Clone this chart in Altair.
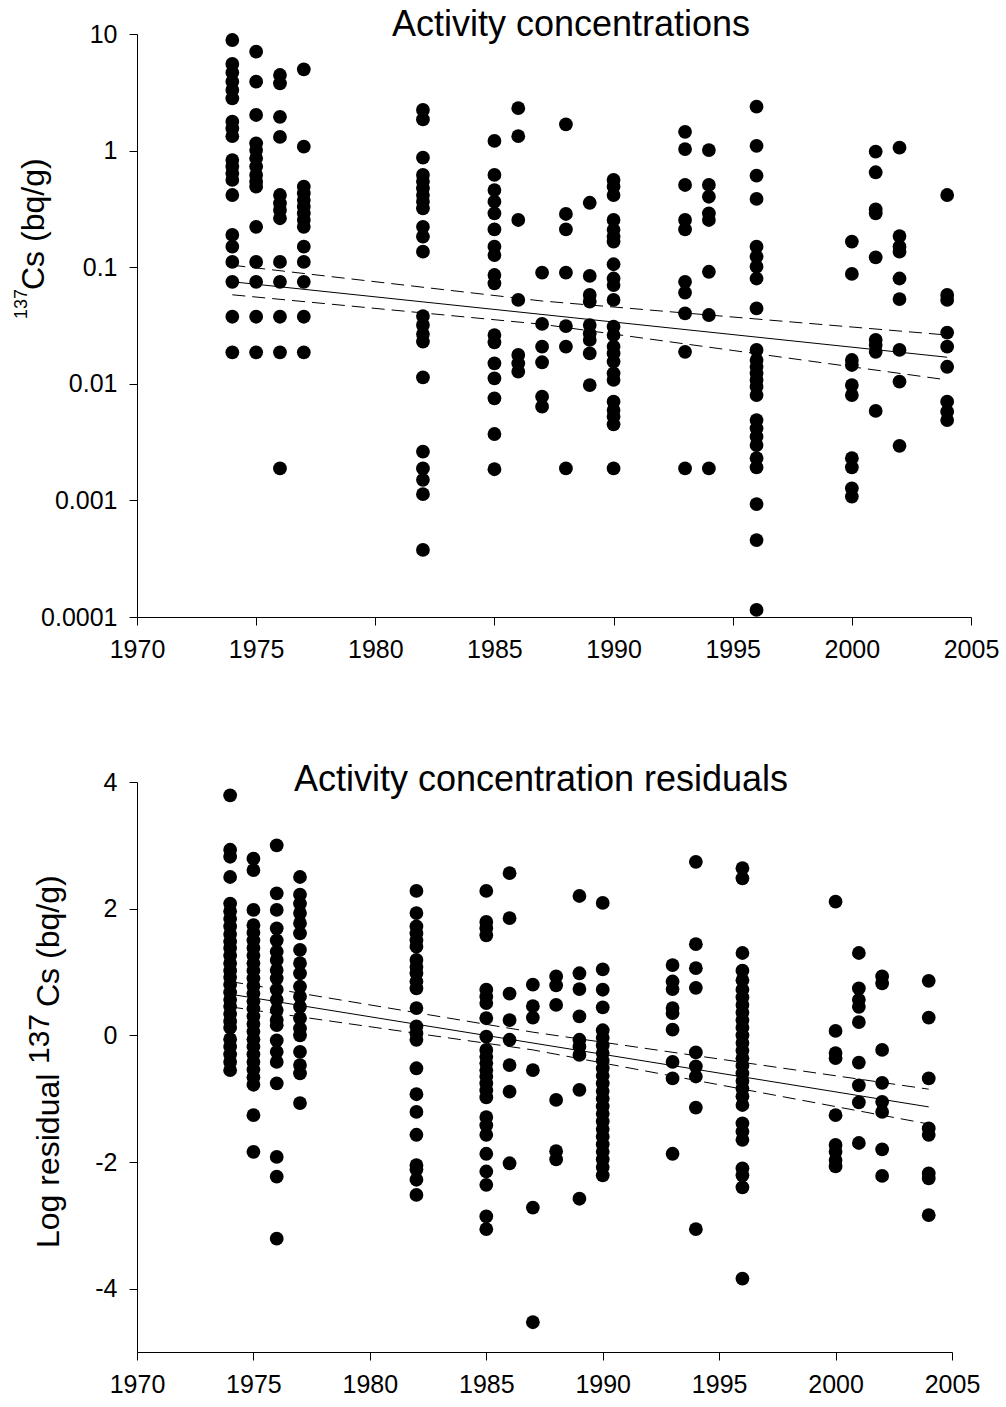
import altair as alt
import pandas as pd

FONT = "Liberation Sans"

# ---------------- Top panel: activity concentrations (Bq/g) ----------------
c1974 = [8.88, 5.53, 4.66, 3.90, 3.31, 2.81, 1.77, 1.55, 1.33, 0.83, 0.73, 0.64, 0.56, 0.416, 0.189, 0.150, 0.111, 0.075, 0.0376, 0.0186]
c1975 = [7.05, 3.90, 2.02, 1.155, 1.01, 0.86, 0.73, 0.618, 0.541, 0.49, 0.222, 0.111, 0.075, 0.0376, 0.0186]
c1976 = [4.45, 3.77, 1.95, 1.31, 0.416, 0.353, 0.31, 0.263, 0.111, 0.075, 0.0376, 0.0186, 0.00188]
c1977 = [4.98, 1.08, 0.49, 0.43, 0.377, 0.33, 0.29, 0.254, 0.222, 0.150, 0.111, 0.075, 0.0376, 0.0186]
c1982 = [2.23, 1.85, 0.869, 0.618, 0.541, 0.475, 0.416, 0.365, 0.32, 0.222, 0.183, 0.136, 0.0381, 0.0320, 0.0267, 0.0230, 0.01137, 0.00262, 0.00188, 0.0015, 0.00113, 0.000376]
c1985 = [1.21, 0.618, 0.459, 0.365, 0.29, 0.211, 0.150, 0.127, 0.0857, 0.0727, 0.0262, 0.0227, 0.0150, 0.01115, 0.00751, 0.00371, 0.00185]
c1986 = [2.31, 1.33, 0.254, 0.0524, 0.0177, 0.0150, 0.0127]
c1987 = [0.0897, 0.0326, 0.0208, 0.0153, 0.00776, 0.00637]
c1988 = [1.68, 0.286, 0.211, 0.0897, 0.0313, 0.0208, 0.00188]
c1989 = [0.357, 0.0841, 0.0578, 0.0506, 0.0319, 0.0270, 0.0238, 0.0182, 0.00975]
c1990 = [0.56, 0.49, 0.416, 0.254, 0.209, 0.183, 0.166, 0.106, 0.080, 0.0703, 0.0524, 0.0309, 0.0262, 0.0208, 0.0182, 0.0155, 0.0123, 0.0108, 0.00703, 0.00596, 0.00522, 0.00449, 0.00188]
c1993 = [1.45, 1.03, 0.507, 0.254, 0.211, 0.075, 0.0606, 0.0402, 0.0188, 0.00188]
c1994 = [1.01, 0.507, 0.402, 0.29, 0.254, 0.0914, 0.0389, 0.00188]
c1996 = [2.38, 1.10, 0.61, 0.385, 0.150, 0.123, 0.101, 0.080, 0.0443, 0.0195, 0.016, 0.0140, 0.0123, 0.0108, 0.00944, 0.00801, 0.00489, 0.00415, 0.00352, 0.00298, 0.00230, 0.00192, 0.00093, 0.000457, 0.000115]
c2000 = [0.166, 0.0875, 0.016, 0.0145, 0.00975, 0.00801, 0.0023, 0.00192, 0.00127, 0.00108]
c2001 = [0.98, 0.652, 0.313, 0.29, 0.1216, 0.0238, 0.0215, 0.0188, 0.00585]
c2002 = [1.06, 0.185, 0.150, 0.136, 0.080, 0.0533, 0.0195, 0.01045, 0.00294]
c2004 = [0.416, 0.0578, 0.0524, 0.0275, 0.0208, 0.014, 0.00703, 0.00577, 0.00489]

# regression line and confidence limits (top)
fit_years = [1974, 2004]
fit_top = [0.075, 0.0169]
band_years = [1974, 1987, 2004]
upper_top = [0.104, 0.0513, 0.0262]
lower_top = [0.058, 0.0324, 0.0108]

# ---------------- Bottom panel: log residuals ----------------
r1974 = [3.79, 2.93, 2.82, 2.50, 2.08, 1.96, 1.84, 1.72, 1.60, 1.48, 1.38, 1.26, 1.14, 1.02, 0.92, 0.80, 0.68, 0.56, 0.46, 0.34, 0.22, 0.12, -0.06, -0.18, -0.30, -0.42, -0.55]
r1975 = [2.79, 2.61, 1.98, 1.74, 1.62, 1.50, 1.38, 1.26, 1.14, 1.02, 0.90, 0.78, 0.66, 0.54, 0.42, 0.30, 0.18, 0.06, -0.06, -0.18, -0.30, -0.42, -0.54, -0.66, -0.78, -1.26, -1.84]
r1976 = [3.00, 2.24, 1.98, 1.69, 1.50, 1.32, 1.19, 1.03, 0.90, 0.72, 0.56, 0.40, 0.24, 0.16, -0.08, -0.26, -0.42, -0.76, -1.92, -2.23, -3.21]
r1977 = [2.50, 2.22, 2.08, 1.93, 1.77, 1.61, 1.35, 1.14, 0.98, 0.77, 0.61, 0.45, 0.27, 0.11, 0.0, -0.26, -0.47, -0.60, -1.07]
r1982 = [2.28, 1.93, 1.72, 1.61, 1.50, 1.40, 1.19, 1.08, 0.98, 0.85, 0.74, 0.43, 0.14, 0.03, -0.07, -0.52, -0.93, -1.21, -1.57, -2.05, -2.12, -2.28, -2.52]
r1985 = [2.28, 1.79, 1.69, 1.58, 0.72, 0.61, 0.51, 0.27, -0.02, -0.23, -0.34, -0.44, -0.55, -0.65, -0.76, -0.87, -0.98, -1.29, -1.42, -1.57, -1.87, -2.15, -2.36, -2.86, -3.06]
r1986 = [2.56, 1.85, 0.66, 0.24, -0.07, -0.47, -0.89, -2.02]
r1987 = [0.80, 0.46, 0.28, -0.55, -2.72, -4.53]
r1988 = [0.93, 0.79, 0.48, -1.02, -1.83, -1.96]
r1989 = [2.20, 0.98, 0.73, 0.30, -0.07, -0.18, -0.31, -0.86, -2.58]
r1990 = [2.09, 1.04, 0.72, 0.44, 0.08, -0.04, -0.16, -0.28, -0.40, -0.52, -0.64, -0.76, -0.88, -1.00, -1.12, -1.24, -1.36, -1.48, -1.60, -1.72, -1.84, -1.96, -2.08, -2.21]
r1993 = [1.11, 0.85, 0.73, 0.43, 0.35, 0.09, -0.42, -0.68, -1.87]
r1994 = [2.74, 1.44, 1.06, 0.75, -0.27, -0.49, -0.65, -1.14, -3.06]
r1996 = [2.64, 2.48, 1.30, 1.02, 0.87, 0.72, 0.60, 0.48, 0.36, 0.24, 0.12, 0.0, -0.12, -0.24, -0.36, -0.48, -0.60, -0.72, -0.84, -0.96, -1.10, -1.39, -1.52, -1.65, -2.10, -2.21, -2.40, -3.84]
r2000 = [2.11, 0.07, -0.28, -0.36, -1.26, -1.73, -1.84, -1.97, -2.07]
r2001 = [1.30, 0.74, 0.56, 0.45, 0.21, -0.43, -0.79, -1.06, -1.70]
r2002 = [0.93, 0.82, -0.23, -0.75, -1.05, -1.21, -1.80, -2.22]
r2004 = [0.86, 0.28, -0.68, -1.47, -1.57, -2.18, -2.26, -2.84]

fit_bot = [0.65, -1.13]
upper_bot = [0.85, 0.05, -0.85]
lower_bot = [0.45, -0.23, -1.40]

years = [1974, 1975, 1976, 1977, 1982, 1985, 1986, 1987, 1988, 1989, 1990, 1993, 1994, 1996, 2000, 2001, 2002, 2004]
conc_cols = [c1974, c1975, c1976, c1977, c1982, c1985, c1986, c1987, c1988, c1989, c1990, c1993, c1994, c1996, c2000, c2001, c2002, c2004]
resid_cols = [r1974, r1975, r1976, r1977, r1982, r1985, r1986, r1987, r1988, r1989, r1990, r1993, r1994, r1996, r2000, r2001, r2002, r2004]

title_top = "Activity concentrations"
title_bot = "Activity concentration residuals"

x_ticks = [1970, 1975, 1980, 1985, 1990, 1995, 2000, 2005]
y_ticks_top = [0.0001, 0.001, 0.01, 0.1, 1, 10]
y_ticks_bot = [-4, -2, 0, 2, 4]


def points_df(cols):
    rows = []
    for yr, vals in zip(years, cols):
        for v in vals:
            rows.append({"year": yr, "value": v})
    return pd.DataFrame(rows)


def lines_df(fit, upper, lower):
    rows = []
    for yr, v in zip(fit_years, fit):
        rows.append({"year": yr, "value": v, "line": "fit"})
    for yr, v in zip(band_years, upper):
        rows.append({"year": yr, "value": v, "line": "upper"})
    for yr, v in zip(band_years, lower):
        rows.append({"year": yr, "value": v, "line": "lower"})
    return pd.DataFrame(rows)


axis_common = dict(
    labelFont=FONT, labelFontSize=25, labelColor="black",
    domainColor="black", tickColor="black", domainWidth=1, tickWidth=1,
    tickSize=8, labelPadding=12, grid=False, title=None,
)

x_enc = alt.X("year:Q", scale=alt.Scale(domain=[1970, 2005], nice=False, zero=False),
              axis=alt.Axis(values=x_ticks, labelExpr="'' + datum.value",
                            labelFlush=False, labelOverlap=False, **axis_common))


def build_panel(df_pts, df_lines, y_scale, y_axis, title_text, title_x, title_y, w, h):
    y_enc = alt.Y("value:Q", scale=y_scale, axis=y_axis)
    base_pts = alt.Chart(df_pts).mark_circle(size=190, color="black", opacity=1).encode(x=x_enc, y=y_enc)
    fit = alt.Chart(df_lines[df_lines["line"] == "fit"]).mark_line(color="black", strokeWidth=1).encode(
        x="year:Q", y="value:Q")
    band = alt.Chart(df_lines[df_lines["line"] != "fit"]).mark_line(
        color="black", strokeWidth=1, strokeDash=[13, 7]).encode(
        x="year:Q", y="value:Q", detail="line:N")
    ttl = alt.Chart(pd.DataFrame({"t": [title_text]})).mark_text(
        font=FONT, fontSize=36, align="center", baseline="alphabetic", color="black").encode(
        text="t:N", x=alt.value(title_x), y=alt.value(title_y))
    return alt.layer(base_pts, fit, band, ttl).properties(width=w, height=h)


top = build_panel(
    points_df(conc_cols), lines_df(fit_top, upper_top, lower_top),
    alt.Scale(type="log", domain=[0.0001, 10], nice=False),
    alt.Axis(values=y_ticks_top, format="~g", **axis_common),
    title_top, 434, 2, 834, 583)

ylab_top_main = alt.Chart(pd.DataFrame({"t": ["Cs (bq/g)"]})).mark_text(
    font=FONT, fontSize=32, angle=270, align="left", baseline="alphabetic", color="black").encode(
    text="t:N", x=alt.value(-93), y=alt.value(256))
ylab_top_sup = alt.Chart(pd.DataFrame({"t": ["137"]})).mark_text(
    font=FONT, fontSize=18, angle=270, align="left", baseline="alphabetic", color="black").encode(
    text="t:N", x=alt.value(-110), y=alt.value(285))
top = alt.layer(top, ylab_top_main, ylab_top_sup)

bot = build_panel(
    points_df(resid_cols), lines_df(fit_bot, upper_bot, lower_bot),
    alt.Scale(domain=[-5, 4], nice=False, zero=False),
    alt.Axis(values=y_ticks_bot, labelExpr="'' + datum.value", **axis_common),
    title_bot, 404, 9, 815, 570)

ylab_bot_a = alt.Chart(pd.DataFrame({"t": ["Log residual"]})).mark_text(
    font=FONT, fontSize=32, angle=270, align="left", baseline="alphabetic", color="black").encode(
    text="t:N", x=alt.value(-78), y=alt.value(466))
ylab_bot_b = alt.Chart(pd.DataFrame({"t": ["137"]})).mark_text(
    font=FONT, fontSize=30, angle=270, align="left", baseline="alphabetic", color="black").encode(
    text="t:N", x=alt.value(-88), y=alt.value(282))
ylab_bot_c = alt.Chart(pd.DataFrame({"t": ["Cs (bq/g)"]})).mark_text(
    font=FONT, fontSize=32, angle=270, align="left", baseline="alphabetic", color="black").encode(
    text="t:N", x=alt.value(-78), y=alt.value(225))
bot = alt.layer(bot, ylab_bot_a, ylab_bot_b, ylab_bot_c)

chart = alt.vconcat(top, bot, spacing=100).properties(
    padding={"left": 13, "top": 7, "right": 2, "bottom": 2},
    background="white",
).configure_view(stroke=None).configure_axis(labelFont=FONT)

chart.save("out.html", embed_options={"renderer": "svg", "actions": False})
